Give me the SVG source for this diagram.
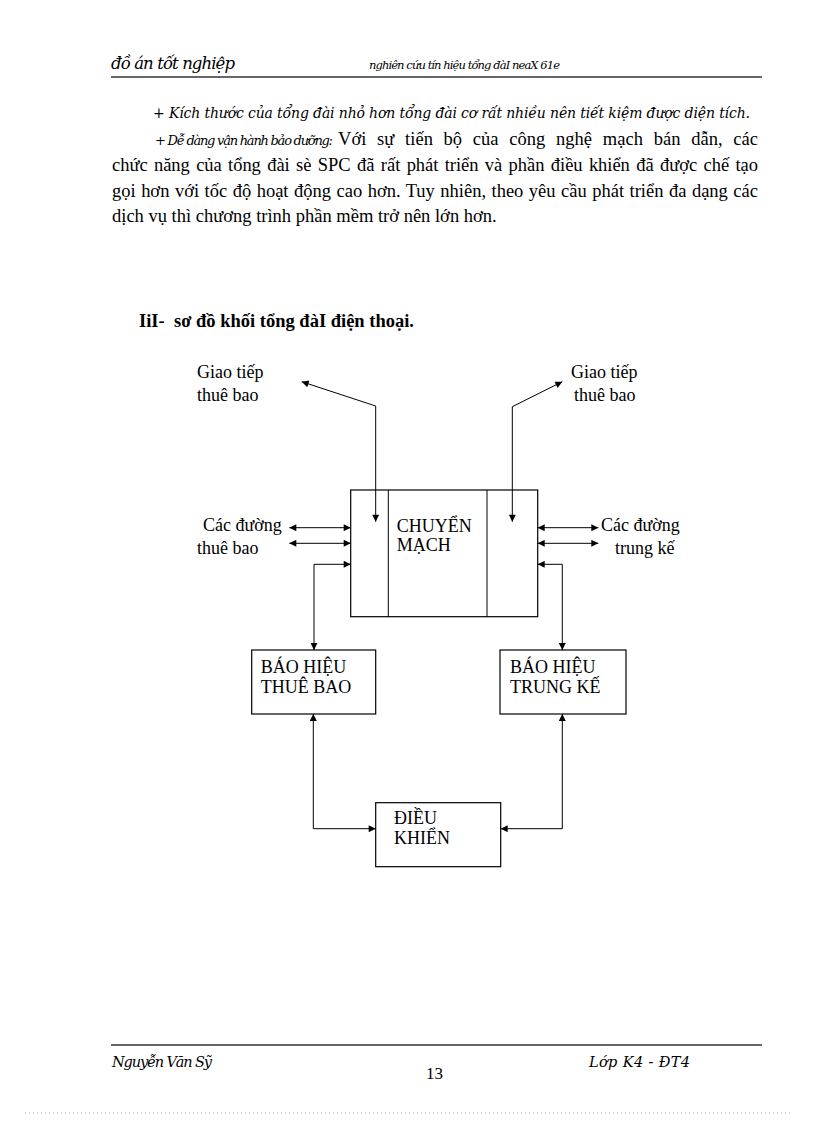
<svg xmlns="http://www.w3.org/2000/svg" width="816" height="1123" viewBox="0 0 816 1123">
<style>
.t{font-family:"Liberation Serif","Times New Roman",serif;fill:#000}
.it{font-family:"DejaVu Serif","Liberation Serif",serif;font-style:italic;fill:#000}
.b{font-weight:bold}
.p{font-size:18.5px}
.d{font-size:18px}
.box{fill:#fff;stroke:#000;stroke-width:1.2}
.c{fill:none;stroke:#000;stroke-width:1}
.rule{stroke:#666;stroke-width:2}
</style>
<defs>
<marker id="ah" viewBox="0 0 10 10" refX="10" refY="5" markerUnits="userSpaceOnUse" markerWidth="9" markerHeight="7" orient="auto-start-reverse">
<path d="M0,0 L10,5 L0,10 z" fill="#000"/>
</marker>
</defs>
<rect width="816" height="1123" fill="#fff"/>

<g id="header">
<text class="it" x="111" y="69" font-size="16.5" textLength="124" lengthAdjust="spacing">đồ án tốt nghiệp</text>
<text class="it" x="369" y="69" font-size="11.5" textLength="191" lengthAdjust="spacing">nghiên cứu tín hiệu tổng đàI neaX 61e</text>
<line class="rule" x1="111" y1="77" x2="762" y2="77"/>
</g>

<g id="paragraph">
<text class="it" x="153" y="118" font-size="14" textLength="597" lengthAdjust="spacing">+ Kích thước của tổng đài nhỏ hơn tổng đài cơ rất nhiều nên tiết kiệm được diện tích.</text>
<text class="it" x="155" y="145" font-size="13" textLength="178" lengthAdjust="spacing">+ Dễ dàng vận hành bảo dưỡng:</text>
<text class="t p" x="338" y="145" word-spacing="6" textLength="420" lengthAdjust="spacing">Với sự tiến bộ của công nghệ mạch bán dẫn, các</text>
<text class="t p" x="112" y="171" word-spacing="1.8" textLength="646" lengthAdjust="spacing">chức năng của tổng đài sè SPC đã rất phát triển và phần điều khiển đã được chế tạo</text>
<text class="t p" x="112" y="197" word-spacing="0.9" textLength="646" lengthAdjust="spacing">gọi hơn với tốc độ hoạt động cao hơn. Tuy nhiên, theo yêu cầu phát triển đa dạng các</text>
<text class="t p" x="112" y="222">dịch vụ thì chương trình phần mềm trở nên lớn hơn.</text>
</g>

<g id="heading">
<text class="t b" x="139" y="327" font-size="18.5" xml:space="preserve">IiI-  sơ đồ khối tổng đàI điện thoại.</text>
</g>

<g id="labels">
<text class="t d" x="197" y="378">Giao tiếp</text>
<text class="t d" x="197" y="401">thuê bao</text>
<text class="t d" x="571" y="378">Giao tiếp</text>
<text class="t d" x="574" y="401">thuê bao</text>
<text class="t d" x="203" y="531">Các đường</text>
<text class="t d" x="197" y="554">thuê bao</text>
<text class="t d" x="601" y="531">Các đường</text>
<text class="t d" x="615" y="554">trung kế</text>
</g>

<g id="chuyen-mach">
<rect class="box" x="350.7" y="490" width="187" height="126.7"/>
<line class="c" x1="388.3" y1="490" x2="388.3" y2="616.7"/>
<line class="c" x1="487" y1="490" x2="487" y2="616.7"/>
<text class="t d" x="396.7" y="532">CHUYỂN</text>
<text class="t d" x="396.7" y="551">MẠCH</text>
</g>

<g id="bao-hieu-thue-bao">
<rect class="box" x="251.7" y="650" width="124" height="64"/>
<text class="t d" x="260.7" y="673">BÁO HIỆU</text>
<text class="t d" x="260.7" y="692.5">THUÊ BAO</text>
</g>

<g id="bao-hieu-trung-ke">
<rect class="box" x="500" y="650" width="126" height="64"/>
<text class="t d" x="510" y="673">BÁO HIỆU</text>
<text class="t d" x="510" y="692.5">TRUNG KẾ</text>
</g>

<g id="dieu-khien">
<rect class="box" x="375.7" y="802.7" width="125" height="64"/>
<text class="t d" x="394" y="824">ĐIỀU</text>
<text class="t d" x="394" y="844.3">KHIỂN</text>
</g>

<g id="connectors">
<path class="c" d="M301.7,381.7 L375.7,406 L375.7,521.7" marker-start="url(#ah)" marker-end="url(#ah)"/>
<path class="c" d="M562.3,381.7 L512.3,406.7 L512.3,521.7" marker-start="url(#ah)" marker-end="url(#ah)"/>
<path class="c" d="M289.3,527.7 H350.7" marker-start="url(#ah)" marker-end="url(#ah)"/>
<path class="c" d="M289.3,543.3 H350.7" marker-start="url(#ah)" marker-end="url(#ah)"/>
<path class="c" d="M350.7,564.3 H314 V650" marker-start="url(#ah)" marker-end="url(#ah)"/>
<path class="c" d="M537.7,527.7 H598.3" marker-start="url(#ah)" marker-end="url(#ah)"/>
<path class="c" d="M537.7,543.3 H598.3" marker-start="url(#ah)" marker-end="url(#ah)"/>
<path class="c" d="M537.7,564.3 H562.3 V650" marker-start="url(#ah)" marker-end="url(#ah)"/>
<path class="c" d="M313.3,714 V828.7 H375.7" marker-start="url(#ah)" marker-end="url(#ah)"/>
<path class="c" d="M562.3,714 V828.7 H500.7" marker-start="url(#ah)" marker-end="url(#ah)"/>
</g>

<g id="footer">
<line class="rule" x1="111" y1="1045" x2="762" y2="1045"/>
<text class="it" x="112" y="1067" font-size="14.5" textLength="100" lengthAdjust="spacing">Nguyễn Văn Sỹ</text>
<text class="t" x="426" y="1079" font-size="17">13</text>
<text class="it" x="589" y="1067" font-size="14.5" textLength="101" lengthAdjust="spacing">Lớp K4 - ĐT4</text>
<line x1="25" y1="1113" x2="790" y2="1113" stroke="#bbb" stroke-width="1" stroke-dasharray="1,3"/>
</g>
</svg>
